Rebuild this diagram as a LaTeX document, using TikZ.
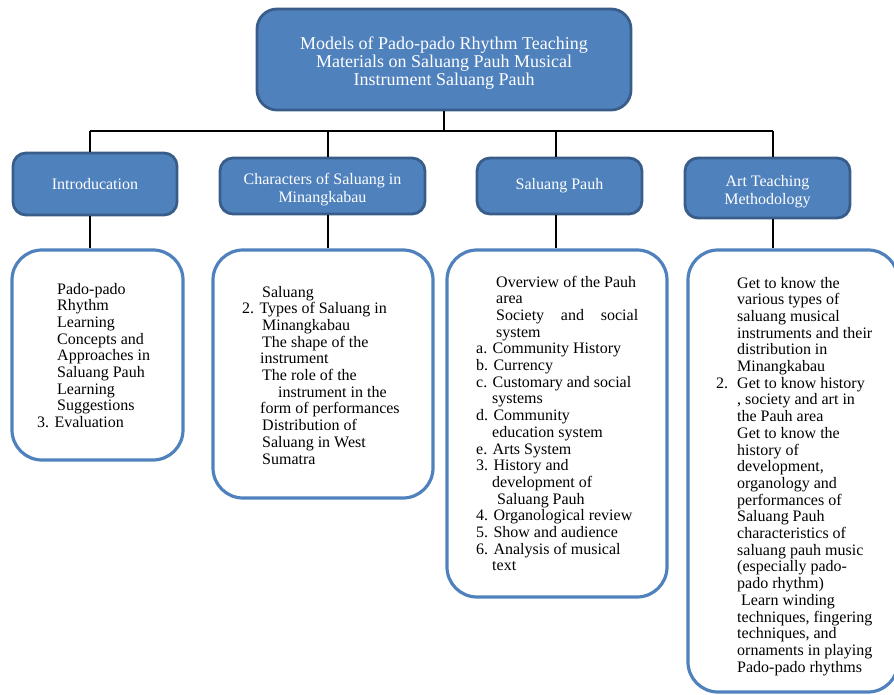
\documentclass[tikz,border=0pt]{standalone}
\usepackage{fontspec}
\setmainfont{Liberation Serif}
\definecolor{boxblue}{HTML}{4F81BD}
\definecolor{edgeblue}{HTML}{385D8A}

\begin{document}
\begin{tikzpicture}[x=1pt,y=1pt,
	topbox/.style={shape=rectangle,rounded corners=13pt,draw=edgeblue,fill=boxblue,line width=2.8pt,text=white,align=center,inner sep=0pt},
	bodybox/.style={shape=rectangle,rounded corners=30pt,draw=boxblue,line width=3.2pt,inner sep=0pt},
	bodytext/.style={anchor=base west,align=left,inner sep=0pt,font=\fontsize{16}{16.7}\selectfont},
	link/.style={line width=1.8pt}]
	
	\useasboundingbox (0,0) rectangle (894,-695);
	\clip (0,0) rectangle (894,-695);
	
	% title and topics
	\node[topbox,minimum width=374pt,minimum height=101pt,rounded corners=20pt,text height=56pt,font=\fontsize{18}{18.2}\selectfont] (head) at (444,-59.5)
	{Models of Pado-pado Rhythm Teaching\\Materials on Saluang Pauh Musical\\Instrument Saluang Pauh};
	\node[topbox,minimum width=164pt,minimum height=62pt,font=\fontsize{16}{18}\selectfont] (intro) at (95,-184) {Introducation};
	\node[topbox,minimum width=205pt,minimum height=56pt,text height=37pt,font=\fontsize{16}{18}\selectfont] (chars) at (322.5,-186) {Characters of Saluang in\\Minangkabau};
	\node[topbox,minimum width=165pt,minimum height=56pt,font=\fontsize{16}{18}\selectfont] (pauh) at (559.5,-186) {Saluang Pauh};
	\node[topbox,minimum width=165pt,minimum height=60pt,text height=37pt,font=\fontsize{16}{18}\selectfont] (art) at (767.5,-188) {Art Teaching\\Methodology};
	
	% content boxes
	\node[bodybox,minimum width=171pt,minimum height=210pt] (body1) at (97.5,-355) {};
	\node[bodybox,minimum width=220pt,minimum height=248pt] (body2) at (323,-374) {};
	\node[bodybox,minimum width=220pt,minimum height=347pt] (body3) at (557,-423.5) {};
	\node[bodybox,minimum width=210pt,minimum height=442pt] (body4) at (793,-471) {};
	
	% text anchored on its last line
	\node[bodytext] (txt1) at (37,-427.6) {%
		\hspace*{20pt}Pado-pado\\
		\hspace*{20pt}Rhythm\\
		\hspace*{20pt}Learning\\
		\hspace*{20pt}Concepts and\\
		\hspace*{20pt}Approaches in\\
		\hspace*{20pt}Saluang Pauh\\
		\hspace*{20pt}Learning\\
		\hspace*{20pt}Suggestions\\
		3. Evaluation};
	
	\node[bodytext] (txt2) at (242,-464) {%
		\hspace*{20pt}Saluang\\
		2. Types of Saluang in\\
		\hspace*{20pt}Minangkabau\\
		\hspace*{20pt}The shape of the\\
		\hspace*{18pt}instrument\\
		\hspace*{20pt}The role of the\\
		\hspace*{36pt}instrument in the\\
		\hspace*{18pt}form of performances\\
		\hspace*{20pt}Distribution of\\
		\hspace*{20pt}Saluang in West\\
		\hspace*{20pt}Sumatra};
	
	\node[bodytext] (txt3) at (476,-570.9) {%
		\hspace*{20pt}Overview of the Pauh\\
		\hspace*{20pt}area\\
		\hspace*{20pt}\makebox[142pt][s]{Society and social}\\
		\hspace*{20pt}system\\
		a. Community History\\
		b. Currency\\
		c. Customary and social\\
		\hspace*{16pt}systems\\
		d. Community\\
		\hspace*{16pt}education system\\
		e. Arts System\\
		3. History and\\
		\hspace*{16pt}development of\\
		\hspace*{21pt}Saluang Pauh\\
		4. Organological review\\
		5. Show and audience\\
		6. Analysis of musical\\
		\hspace*{16pt}text};
	
	\node[bodytext] (txt4) at (716,-672.1) {%
		\hspace*{21pt}Get to know the\\
		\hspace*{21pt}various types of\\
		\hspace*{21pt}saluang musical\\
		\hspace*{21pt}instruments and their\\
		\hspace*{21pt}distribution in\\
		\hspace*{21pt}Minangkabau\\
		\makebox[21pt][l]{2.}Get to know history\\
		\hspace*{21pt}, society and art in\\
		\hspace*{21pt}the Pauh area\\
		\hspace*{21pt}Get to know the\\
		\hspace*{21pt}history of\\
		\hspace*{21pt}development,\\
		\hspace*{21pt}organology and\\
		\hspace*{21pt}performances of\\
		\hspace*{21pt}Saluang Pauh\\
		\hspace*{21pt}characteristics of\\
		\hspace*{21pt}saluang pauh music\\
		\hspace*{21pt}(especially pado-\\
		\hspace*{21pt}pado rhythm)\\
		\hspace*{25pt}Learn winding\\
		\hspace*{21pt}techniques, fingering\\
		\hspace*{21pt}techniques, and\\
		\hspace*{21pt}ornaments in playing\\
		\hspace*{21pt}Pado-pado rhythms};
	
	% connectors
	\coordinate (b1) at (90,-131);
	\coordinate (b2) at (328,-131);
	\coordinate (b3) at (556,-131);
	\coordinate (b4) at (773,-131);
	
	\draw[link] (head.south) -- (head.south |- b1);
	\draw[link] (b1) -- (b4);
	\draw[link] (b1) -- (intro.north -| b1);
	\draw[link] (b2) -- (chars.north -| b2);
	\draw[link] (b3) -- (pauh.north -| b3);
	\draw[link] (b4) -- (art.north -| b4);
	\draw[link] (intro.south -| b1) -- (body1.north -| b1);
	\draw[link] (chars.south -| b2) -- (body2.north -| b2);
	\draw[link] (pauh.south -| b3) -- (body3.north -| b3);
	\draw[link] (art.south -| b4) -- (body4.north -| b4);
	
\end{tikzpicture}
\end{document}
